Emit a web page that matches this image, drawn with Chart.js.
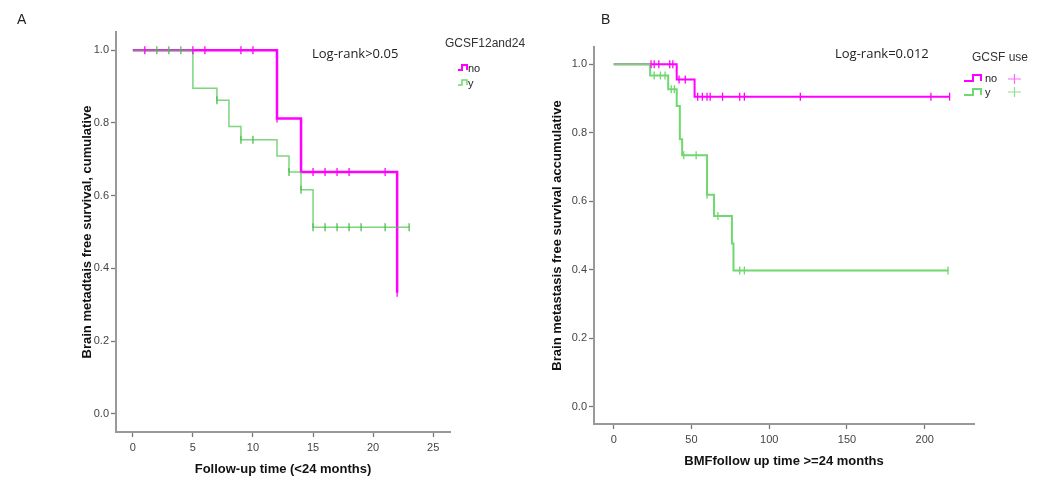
<!DOCTYPE html>
<html>
<head>
<meta charset="utf-8">
<script src="https://cdn.jsdelivr.net/npm/chart.js@4.4.0/dist/chart.umd.min.js"></script>
<style>
body { margin: 0; background: #fff; width: 1042px; height: 481px; position: relative; overflow: hidden; font-family: "Liberation Sans", Arial, sans-serif; }
canvas { position: absolute; top: 0; }
.t { position: absolute; white-space: nowrap; color: #222; line-height: 1; }
.lr { font-family: "Open Sans", sans-serif; font-size: 13px; color: #222; }
.lg { font-size: 11px; color: #333; }
.it { position: absolute; white-space: nowrap; font-size: 11px; color: #222; line-height: 1; }
svg { position: absolute; }
</style>
</head>
<body>
<canvas id="chartA" width="520" height="481" style="left:0"></canvas>
<canvas id="chartB" width="522" height="481" style="left:520px"></canvas>

<div class="t" style="left:17px;top:12px;font-size:14px">A</div>
<div class="t" style="left:601px;top:12px;font-size:14px">B</div>
<div class="t lr" style="left:312px;top:47px">Log-rank&gt;0.05</div>
<div class="t lr" style="left:835px;top:47px">Log-rank=0.012</div>

<div class="t lg" style="left:445px;top:37px;font-size:12px">GCSF12and24</div>
<svg style="left:458px;top:64px" width="11" height="8"><polyline points="0,6 4,6 4,1 9,1 9,6" fill="none" stroke="#ff00ff" stroke-width="2"/></svg>
<div class="it" style="left:468px;top:63px">no</div>
<svg style="left:458px;top:79px" width="11" height="8"><polyline points="0,6 4,6 4,1 9,1 9,6" fill="none" stroke="#6fd86f" stroke-width="1.5"/></svg>
<div class="it" style="left:468px;top:78px">y</div>

<div class="t lg" style="left:972px;top:51px;font-size:12px">GCSF use</div>
<svg style="left:964px;top:73px" width="20" height="10"><polyline points="0,8 9,8 9,2 17,2 17,8" fill="none" stroke="#ff00ff" stroke-width="2"/></svg>
<div class="it" style="left:985px;top:73px">no</div>
<svg style="left:1008px;top:73px" width="14" height="12"><path d="M0,6 H13 M6.5,1 V11" fill="none" stroke="#ff66ff" stroke-width="1.2"/></svg>
<svg style="left:964px;top:87px" width="20" height="10"><polyline points="0,8 9,8 9,2 17,2 17,8" fill="none" stroke="#6fd86f" stroke-width="2"/></svg>
<div class="it" style="left:985px;top:87px">y</div>
<svg style="left:1008px;top:86px" width="14" height="12"><path d="M0,6 H13 M6.5,1 V11" fill="none" stroke="#8fe08f" stroke-width="1.2"/></svg>

<script>
// shared axis ticks
const yTicks = [0, 0.2, 0.4, 0.6, 0.8, 1.0];

// Panel A: follow-up < 24 months
const aXTicks = [0, 5, 10, 15, 20, 25];
const aNoTimes = [0, 12, 14, 22];
const aNoSurv = [1, 0.812, 0.665, 0.333];
const aNoEnd = 22;
const aNoCensor = [1, 5, 6, 9, 10, 12, 15, 16, 17, 18, 21, 22];
const aYTimes = [0, 5, 7, 8, 9, 12, 13, 14, 15];
const aYSurv = [1, 0.895, 0.862, 0.79, 0.754, 0.709, 0.665, 0.616, 0.513];
const aYEnd = 23;
const aYCensor = [2, 3, 4, 7, 9, 10, 13, 14, 15, 16, 17, 18, 19, 21, 23];

// Panel B: follow-up >= 24 months
const bXTicks = [0, 50, 100, 150, 200];
const bNoTimes = [0, 40.5, 52];
const bNoSurv = [1, 0.955, 0.905];
const bNoEnd = 216;
const bNoCensor = [24, 26, 29, 36, 38, 42, 46, 54, 57, 60, 62, 70, 81, 84, 120, 204, 216];
const bYTimes = [0, 23.4, 35, 40.5, 42.5, 44, 60, 64.5, 76, 77];
const bYSurv = [1, 0.967, 0.927, 0.878, 0.781, 0.734, 0.619, 0.557, 0.477, 0.398];
const bYEnd = 215;
const bYCensor = [26, 30, 33, 37, 39, 45, 53, 60, 67, 81, 84, 215];

const MAGENTA = '#ff00ff';
const GREEN = '#6fd86f';

function kmPoints(times, surv, end) {
    const pts = times.map((t, i) => ({x: t, y: surv[i]}));
    pts.push({x: end, y: surv[surv.length - 1]});
    return pts;
}

function survAt(times, surv, t) {
    let s = surv[0];
    for (let i = 0; i < times.length; i++)
        if (times[i] <= t) s = surv[i];
    return s;
}

function censorPoints(times, surv, censor) {
    return censor.map(t => ({x: t, y: survAt(times, surv, t)}));
}

function lineSet(data, color, width, order) {
    return {type: 'line', data: data, borderColor: color, borderWidth: width, stepped: 'before',
        pointRadius: 0, fill: false, order: order};
}

function censorSet(data, color, order) {
    return {type: 'scatter', data: data, borderColor: color, backgroundColor: color, borderWidth: 1.3,
        pointStyle: 'line', rotation: 90, pointRadius: 4, showLine: false, order: order};
}

function drawKM(ctx, datasets, c) {
    new Chart(ctx, {
        type: 'scatter',
        data: {datasets: datasets},
        options: {
            responsive: false,
            animation: false,
            layout: {padding: c.padding},
            plugins: {legend: {display: false}, tooltip: {enabled: false}},
            scales: {
                x: {
                    type: 'linear', min: c.xMin, max: c.xMax,
                    afterBuildTicks: s => { s.ticks = c.xTicks.map(v => ({value: v})); },
                    afterFit: s => { s.height = c.xHeight; },
                    grid: {drawOnChartArea: false, tickLength: 5, tickColor: '#777', tickWidth: 1.3},
                    border: {color: '#999', width: 2},
                    ticks: {color: '#444', font: {size: 11}, padding: 4},
                    title: {display: true, text: c.xTitle, color: '#111',
                        font: {size: 13, weight: 'bold'}, padding: {top: 0, bottom: 2}}
                },
                y: {
                    type: 'linear', min: -0.05, max: 1.05,
                    afterBuildTicks: s => { s.ticks = yTicks.map(v => ({value: v})); },
                    afterFit: s => { s.width = c.yWidth; },
                    grid: {drawOnChartArea: false, tickLength: 5, tickColor: '#777', tickWidth: 1.3},
                    border: {color: '#999', width: 2},
                    ticks: {color: '#444', font: {size: 11}, padding: 2, callback: v => v.toFixed(1)},
                    title: {display: true, text: c.yTitle, color: '#111',
                        font: {size: 13, weight: 'bold'}, padding: {top: 2, bottom: 0}}
                }
            }
        }
    });
}

drawKM(document.getElementById('chartA'), [
    lineSet(kmPoints(aNoTimes, aNoSurv, aNoEnd), MAGENTA, 2.5, 2),
    lineSet(kmPoints(aYTimes, aYSurv, aYEnd), 'rgba(70,195,70,0.7)', 1.5, 1),
    censorSet(censorPoints(aNoTimes, aNoSurv, aNoCensor), MAGENTA, 0),
    censorSet(censorPoints(aYTimes, aYSurv, aYCensor), '#4cbf4c', 0)
], {
    padding: {left: 78, top: 32, right: 70, bottom: 2},
    xMin: -1.4, xMax: 26.4, xTicks: aXTicks, xHeight: 47, yWidth: 38,
    xTitle: 'Follow-up time (<24 months)',
    yTitle: 'Brain metadtais free survival, cumulative'
});

drawKM(document.getElementById('chartB'), [
    lineSet(kmPoints(bNoTimes, bNoSurv, bNoEnd), MAGENTA, 2, 2),
    lineSet(kmPoints(bYTimes, bYSurv, bYEnd), GREEN, 2, 1),
    censorSet(censorPoints(bNoTimes, bNoSurv, bNoCensor), MAGENTA, 0),
    censorSet(censorPoints(bYTimes, bYSurv, bYCensor), GREEN, 0)
], {
    padding: {left: 28, top: 47, right: 68, bottom: 10},
    xMin: -12.7, xMax: 231.7, xTicks: bXTicks, xHeight: 47, yWidth: 46,
    xTitle: 'BMFfollow up time >=24 months',
    yTitle: 'Brain metastasis free survival accumulative'
});
</script>
</body>
</html>
